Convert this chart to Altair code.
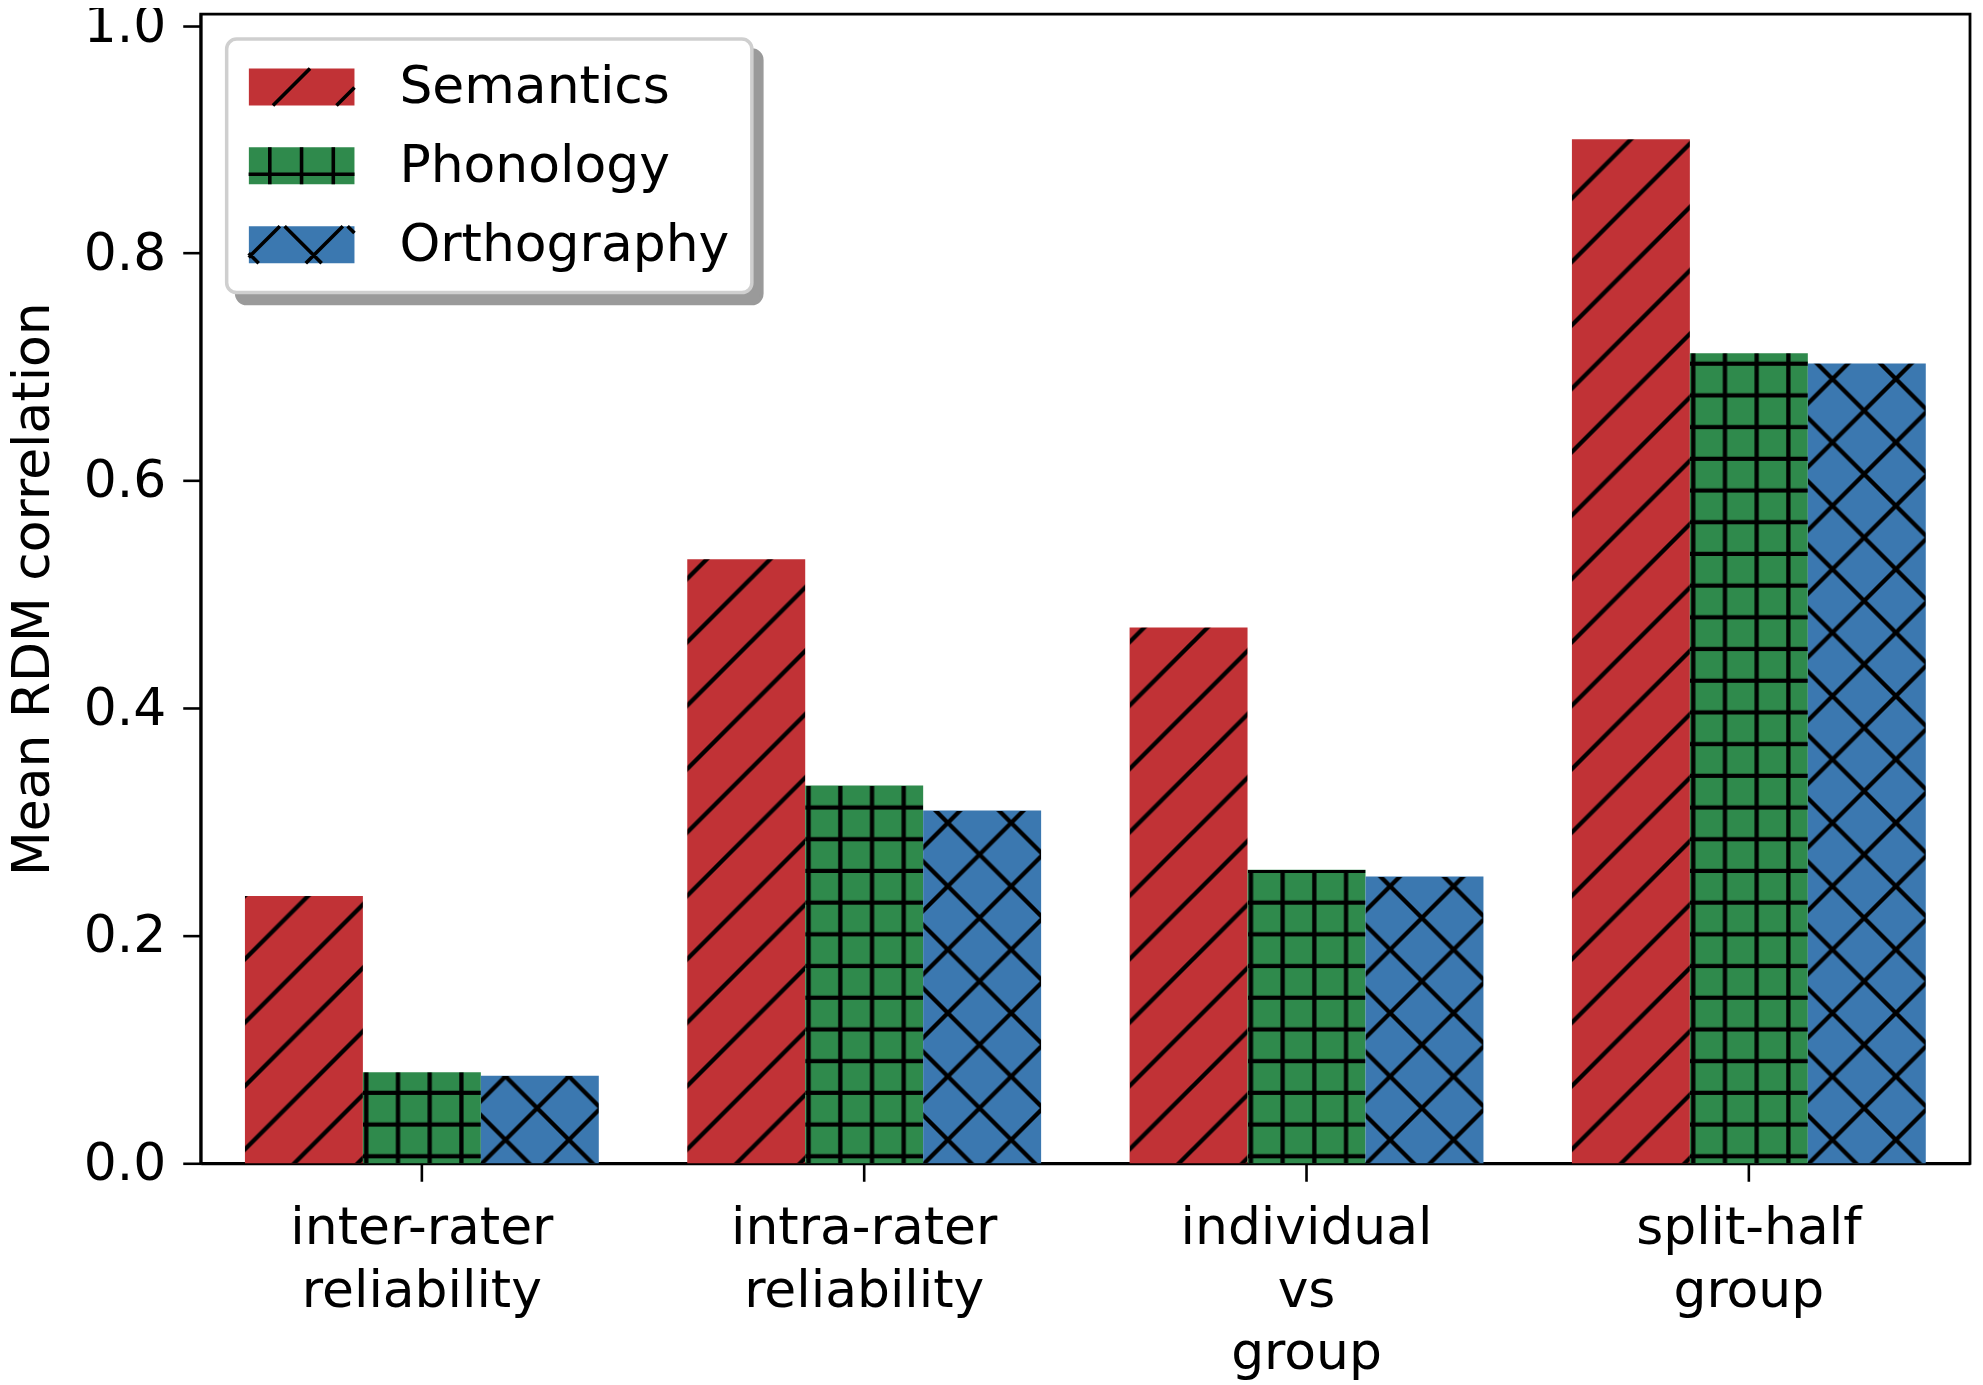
import base64
import altair as alt
import pandas as pd

# ---- data ----
CATEGORIES = ["inter-rater\nreliability", "intra-rater\nreliability", "individual\nvs\ngroup", "split-half\ngroup"]
SERIES = ["Semantics", "Phonology", "Orthography"]
SEMANTICS = [0.235, 0.531, 0.471, 0.900]
PHONOLOGY = [0.080, 0.332, 0.258, 0.712]
ORTHOGRAPHY = [0.077, 0.310, 0.252, 0.703]
Y_TICKS = [0.0, 0.2, 0.4, 0.6, 0.8, 1.0]

# ---- styles ----
COLORS = ["#C13236", "#2F8A4C", "#3B78B0"]
FONT = "DejaVu Sans"
T = 63.5   # hatch repeat in px
LW = 4.3   # hatch line width


def svg_uri(tile, body, transform="translate(0,0)"):
    svg = (
        "<svg xmlns='http://www.w3.org/2000/svg'><defs>"
        f"<pattern id='p' x='0' y='100%' width='{tile}' height='{tile}' patternUnits='userSpaceOnUse' "
        f"patternTransform='{transform}'>"
        f"<path d='{body}' stroke='black' stroke-width='{LW}' fill='none'/></pattern></defs>"
        "<rect width='100%' height='100%' fill='url(#p)'/></svg>"
    )
    return "data:image/svg+xml;base64," + base64.b64encode(svg.encode()).decode()


slash = f"M-3,{T+3} L{T+3},-3 M-3,3 L3,-3 M{T-3},{T+3} L{T+3},{T-3}"
h = T / 2
plus = f"M0,{h-7} H{h} M3.4,0 V{h}"
cross = (slash + f" M-3,-3 L{T+3},{T+3} M{T-3},-3 L{T+3},3 M-3,{T-3} L3,{T+3}")
HATCH = {
    "Semantics": svg_uri(T, slash, "translate(0,-14)"),
    "Phonology": svg_uri(h, plus),
    "Orthography": svg_uri(T, cross, "translate(24.7,-23.5)"),
}
# legend swatches (unit box -1..1 x -0.35..0.35) and the hatch drawn over them
SWATCH = "M-1,-0.35H1V0.35H-1Z"
SHADOW_BAR = "M-1,-0.05H1V0.05H-1Z"
SWATCH_HATCH = [
    "M-0.54,0.35L0.16,-0.35M0.66,0.35L1,0.01",
    "M-0.6,-0.35V0.35M0,-0.35V0.35M0.6,-0.35V0.35M-1,0.16H1",
    "M0.08,0.35L0.78,-0.35M-1,0.24L-0.41,-0.35M-0.32,-0.35L0.38,0.35M-1,0.16L-0.81,0.35M0.87,-0.35L1,-0.22",
]

rows = []
for s, vals in zip(SERIES, [SEMANTICS, PHONOLOGY, ORTHOGRAPHY]):
    for c, v in zip(CATEGORIES, vals):
        rows.append({"category": c, "series": s, "series_h": s, "series_s": s,
                     "value": v, "hatch": HATCH[s]})
df = pd.DataFrame(rows)

x_enc = alt.X(
    "category:N",
    sort=CATEGORIES,
    scale=alt.Scale(paddingInner=0.2, paddingOuter=0.1),
    axis=alt.Axis(
        title=None,
        labelExpr="split(datum.label, '\\n')",
        labelAngle=0,
        labelFont=FONT,
        labelFontSize=52,
        labelColor="black",
        labelLineHeight=63,
        labelBaseline="top",
        labelPadding=21,
        labelLimit=0,
        tickSize=18,
        tickWidth=2.6,
        tickColor="black",
        domainColor="black",
        domainWidth=2.8,
    ),
)
xo_enc = alt.XOffset("series:N", sort=SERIES, scale=alt.Scale(paddingInner=0, paddingOuter=0))
y_enc = alt.Y(
    "value:Q",
    scale=alt.Scale(domain=[0, 1.0101], nice=False, zero=True),
    axis=alt.Axis(
        title="Mean RDM correlation",
        values=Y_TICKS,
        format=".1f",
        grid=False,
        labelFont=FONT,
        labelFontSize=52,
        labelColor="black",
        labelPadding=17,
        tickSize=18,
        tickWidth=2.6,
        tickColor="black",
        domainColor="black",
        domainWidth=2.8,
        titleFont=FONT,
        titleFontSize=52,
        titleFontWeight="normal",
        titleColor="black",
        titlePadding=24,
    ),
)

LEG = dict(
    title=None,
    orient="none",
    clipHeight=52,
    labelFont=FONT,
    labelFontSize=52,
    labelColor="black",
    labelLimit=0,
    rowPadding=27,
    padding=22,
    cornerRadius=10,
)

bars = alt.Chart(df).mark_bar().encode(
    x=x_enc,
    xOffset=xo_enc,
    y=y_enc,
    color=alt.Color(
        "series:N",
        sort=SERIES,
        scale=alt.Scale(domain=SERIES, range=COLORS),
        legend=alt.Legend(
            legendX=26, legendY=25,
            symbolType=SWATCH,
            symbolSize=11236,
            symbolStrokeWidth=0,
            symbolOpacity=1,
            labelOffset=45,
            strokeColor="#cfcfcf",
            fillColor="white",
            zindex=2,
            **LEG,
        ),
    ),
    opacity=alt.Opacity(
        "series_s:O",
        sort=SERIES,
        scale=alt.Scale(range=[1, 1, 1]),
        legend=alt.Legend(
            legendX=36, legendY=36,
            symbolType=SHADOW_BAR,
            symbolSize=231842,
            symbolStrokeWidth=0,
            symbolFillColor="#9a9a9a",
            labelExpr="''",
            labelOffset=0,
            strokeColor="#9a9a9a",
            fillColor="#9a9a9a",
            zindex=1,
            **LEG,
        ),
    ),
)

hatch = alt.Chart(df).mark_image(aspect=False).encode(
    x=x_enc,
    xOffset=xo_enc,
    y=y_enc,
    y2=alt.datum(0),
    url="hatch:N",
)

swatch_hatch = alt.Chart(df).mark_point(opacity=0, color="black", filled=False).encode(
    x=x_enc,
    xOffset=xo_enc,
    y=y_enc,
    shape=alt.Shape(
        "series_h:N",
        sort=SERIES,
        scale=alt.Scale(range=SWATCH_HATCH),
        legend=alt.Legend(
            legendX=24, legendY=25,
            symbolSize=11236,
            symbolStrokeWidth=3.6,
            symbolStrokeColor="black",
            symbolFillColor="transparent",
            symbolOpacity=1,
            labelExpr="''",
            labelOffset=0,
            strokeColor="transparent",
            fillColor="transparent",
            zindex=3,
            **LEG,
        ),
    ),
)

chart = (
    alt.layer(bars, hatch, swatch_hatch)
    .properties(
        width=1772,
        height=1151,
        autosize=alt.AutoSizeParams(type="none"),
        padding={"left": 193, "top": 5, "right": 5, "bottom": 220},
    )
    .configure(font=FONT)
    .configure_view(stroke="black", strokeWidth=2.8)
    .configure_legend(strokeWidth=3.5)
)

chart.save("out.html", embed_options={"renderer": "svg", "actions": False})
